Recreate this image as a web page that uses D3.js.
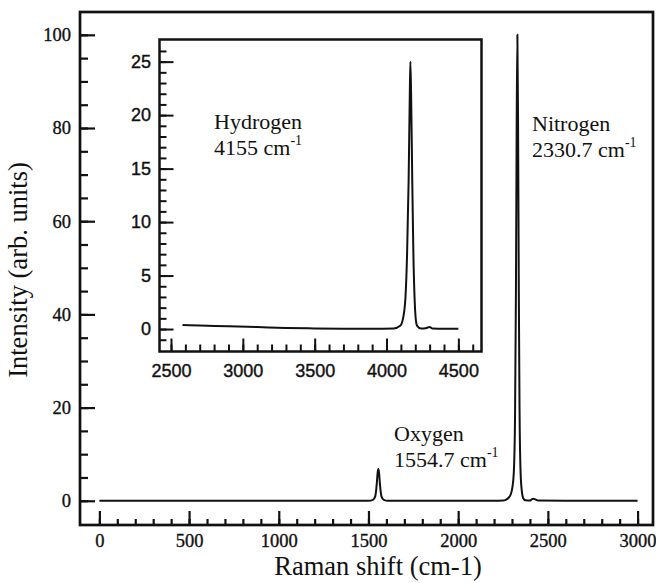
<!DOCTYPE html>
<html>
<head>
<meta charset="utf-8">
<script src="https://cdn.jsdelivr.net/npm/d3@7"></script>
<style>
  body { margin: 0; background: #fff; }
</style>
</head>
<body>
<div id="chart"></div>
<script>
// main spectrum (Raman shift, intensity)
var mainShift = [0, 500, 1000, 1500, 1525, 1538, 1546, 1551, 1555, 1559, 1564, 1572, 1585, 1610,
  2200, 2250, 2265, 2280, 2292, 2302, 2310, 2317, 2322, 2326, 2330, 2334, 2338, 2342, 2348, 2355, 2362, 2375,
  2400, 2410, 2420, 2430, 2445, 2600, 2800, 3000];
var mainIntensity = [0, 0, 0, 0, 0.2, 1, 3.5, 6, 6.8, 6, 3.5, 1, 0.2, 0,
  0, 0.05, 0.2, 0.6, 1.3, 2.8, 6, 18, 45, 80, 100, 80, 45, 20, 6, 2, 0.6, 0.1,
  0.05, 0.3, 0.45, 0.3, 0.05, 0, 0, 0];

// inset spectrum (hydrogen region)
var insetShift = [2580, 2700, 2900, 3100, 3300, 3500, 3700, 3900, 4050, 4095, 4115, 4132, 4143, 4154,
  4162, 4166, 4171, 4179, 4187, 4195, 4203, 4213, 4240, 4280, 4300, 4320, 4400, 4500];
var insetIntensity = [0.38, 0.33, 0.26, 0.18, 0.1, 0.06, 0.03, 0.02, 0.05, 0.3, 1, 3, 7, 14,
  22, 25, 22, 14, 7, 3, 1, 0.3, 0.05, 0.1, 0.2, 0.05, 0.02, 0.03];

var mainXTicks = [0, 500, 1000, 1500, 2000, 2500, 3000];
var mainYTicks = [0, 20, 40, 60, 80, 100];
var insetXTicks = [2500, 3000, 3500, 4000, 4500];
var insetYTicks = [0, 5, 10, 15, 20, 25];

var peakNames = ["Hydrogen", "Nitrogen", "Oxygen"];
var peakShifts = ["4155", "2330.7", "1554.7"];

var SERIF = '"Liberation Serif", "Times New Roman", serif';
var SANS = '"Liberation Sans", Arial, sans-serif';
var INK = "#111";

var width = 656, height = 583;
var svg = d3.select("#chart").append("svg")
  .attr("width", width)
  .attr("height", height);

// main plot box
var main = {left: 80, right: 653, top: 12, bottom: 525};
var x = d3.scaleLinear().domain([-108, 3086]).range([main.left, main.right]);
var y = d3.scaleLinear().domain([-5.2, 104.9]).range([main.bottom, main.top]);

// inset box
var inset = {left: 159.5, right: 481.5, top: 39.5, bottom: 351.5};
var ix = d3.scaleLinear().domain([2420, 4661]).range([inset.left, inset.right]);
var iy = d3.scaleLinear().domain([-2.1, 27.07]).range([inset.bottom, inset.top]);

function inside(scale, step) {
  var d = scale.domain(), out = [];
  for (var v = Math.ceil(d[0] / step) * step; v < d[1]; v += step) {
    if (v > d[0] + step * 0.1 && v < d[1] - step * 0.1) out.push(v);
  }
  return out;
}

function styleAxis(a, o) {
  a.select(".domain").remove();
  a.attr("font-family", o.font).attr("font-size", o.fontSize);
  a.selectAll(".tick line")
    .attr("stroke", INK)
    .style("stroke-width", o.tickWidth + "px");
  a.selectAll(".tick text")
    .attr("fill", INK)
    .style("font-family", o.font)
    .style("font-size", o.fontSize + "px")
    .style("stroke", INK)
    .style("stroke-width", o.textStroke + "px");
}

function drawAxes(g, box, sx, sy, xt, yt, xMinor, yMinor, o) {
  // minor ticks
  g.append("g")
    .attr("transform", "translate(0," + box.bottom + ")")
    .call(d3.axisBottom(sx).tickValues(inside(sx, xMinor)).tickFormat("").tickSizeInner(-o.xMinorLen).tickSizeOuter(0))
    .call(styleAxis, o);
  g.append("g")
    .attr("transform", "translate(" + box.left + ",0)")
    .call(d3.axisLeft(sy).tickValues(inside(sy, yMinor)).tickFormat("").tickSizeInner(-o.yMinorLen).tickSizeOuter(0))
    .call(styleAxis, o);

  // major ticks + labels
  g.append("g")
    .attr("transform", "translate(0," + box.bottom + ")")
    .call(d3.axisBottom(sx).tickValues(xt).tickFormat(d3.format("d")).tickSizeInner(-o.xMajorLen).tickSizeOuter(0).tickPadding(o.xPad))
    .call(styleAxis, o);
  g.append("g")
    .attr("transform", "translate(" + box.left + ",0)")
    .call(d3.axisLeft(sy).tickValues(yt).tickFormat(d3.format("d")).tickSizeInner(-o.yMajorLen).tickSizeOuter(0).tickPadding(o.yPad))
    .call(styleAxis, o);

  g.append("rect")
    .attr("x", box.left).attr("y", box.top)
    .attr("width", box.right - box.left)
    .attr("height", box.bottom - box.top)
    .attr("fill", "none")
    .attr("stroke", INK)
    .attr("stroke-width", o.frameWidth);
}

var gMain = svg.append("g");
drawAxes(gMain, main, x, y, mainXTicks, mainYTicks, 100, 5, {
  xMajorLen: 14, xMinorLen: 6, yMajorLen: 15, yMinorLen: 8,
  xPad: 9, yPad: 9, font: SERIF, fontSize: 18.5, textStroke: 0.35, tickWidth: 2.2, frameWidth: 2.7
});

var mainLine = d3.line()
  .x(function(d) { return x(d[0]); })
  .y(function(d) { return y(d[1]); })
  .curve(d3.curveMonotoneX);

gMain.append("path")
  .datum(d3.zip(mainShift, mainIntensity))
  .attr("d", mainLine)
  .attr("fill", "none")
  .attr("stroke", INK)
  .attr("stroke-width", 2);

// inset
var gInset = svg.append("g");
gInset.append("rect")
  .attr("x", inset.left).attr("y", inset.top)
  .attr("width", inset.right - inset.left)
  .attr("height", inset.bottom - inset.top)
  .attr("fill", "#fff");
drawAxes(gInset, inset, ix, iy, insetXTicks, insetYTicks, 100, 1, {
  xMajorLen: 13, xMinorLen: 7, yMajorLen: 14, yMinorLen: 7,
  xPad: 12.5, yPad: 8.5, font: SANS, fontSize: 18, textStroke: 0.4, tickWidth: 2, frameWidth: 2.5
});

var insetLine = d3.line()
  .x(function(d) { return ix(d[0]); })
  .y(function(d) { return iy(d[1]); })
  .curve(d3.curveMonotoneX);

gInset.append("path")
  .datum(d3.zip(insetShift, insetIntensity))
  .attr("d", insetLine)
  .attr("fill", "none")
  .attr("stroke", INK)
  .attr("stroke-width", 2);

// axis titles
svg.append("text")
  .attr("x", 378).attr("y", 575)
  .attr("text-anchor", "middle")
  .style("font-family", SERIF)
  .style("font-size", "26.5px")
  .attr("fill", INK)
  .text("Raman shift (cm-1)");

svg.append("text")
  .attr("transform", "translate(27,270) rotate(-90)")
  .attr("text-anchor", "middle")
  .style("font-family", SERIF)
  .style("font-size", "26.5px")
  .attr("fill", INK)
  .text("Intensity (arb. units)");

// peak annotations
var notePos = [[214, 129], [532, 131], [394, 441]];
peakNames.forEach(function(name, i) {
  svg.append("text")
    .attr("x", notePos[i][0]).attr("y", notePos[i][1])
    .style("font-family", SERIF)
    .style("font-size", "22px")
    .attr("fill", INK)
    .text(name);
  var t2 = svg.append("text")
    .attr("x", notePos[i][0]).attr("y", notePos[i][1] + 26)
    .style("font-family", SERIF)
    .style("font-size", "22px")
    .attr("fill", INK);
  t2.append("tspan").text(peakShifts[i] + " cm");
  t2.append("tspan").attr("dy", -10).style("font-size", "14px").text("-1");
});
</script>
</body>
</html>
